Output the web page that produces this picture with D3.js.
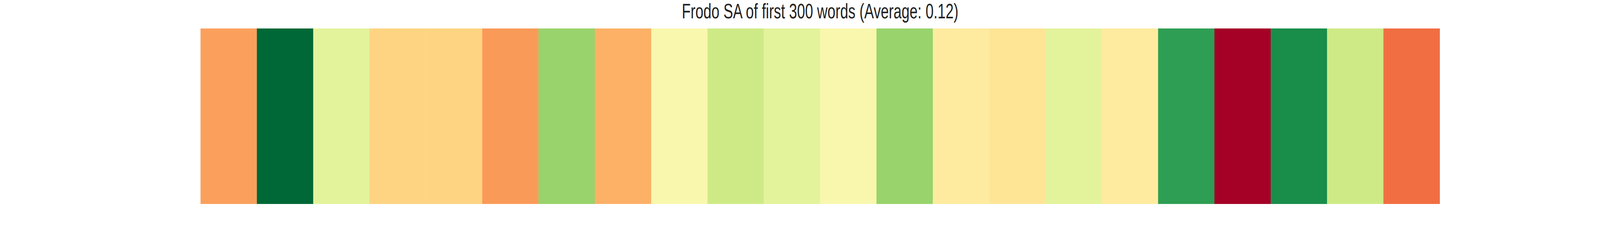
<!DOCTYPE html>
<html>
<head>
<meta charset="utf-8">
<script src="https://cdn.jsdelivr.net/npm/d3@7"></script>
<style>
  html, body { margin: 0; padding: 0; background: #fff; overflow: hidden; }
  svg { display: block; width: 100vw; height: 100vh; }
</style>
</head>
<body>
<div id="chart"></div>
<script>
const titleText = "Frodo SA of first 300 words (Average: 0.12)";
// sentiment per chunk
const sentiment = [-0.44, 1.0, 0.14, -0.24, -0.24, -0.46, 0.44, -0.38, 0.0, 0.24, 0.14,
  0.0, 0.44, -0.12, -0.16, 0.14, -0.12, 0.76, -1.0, 0.84, 0.24, -0.6];

const width = 6000, height = 600;
const margin = { top: 73, right: 601, bottom: 77, left: 752 };

const svg = d3.select("#chart").append("svg")
  .attr("viewBox", `0 0 ${width} ${height}`)
  .attr("preserveAspectRatio", "none");

const x = d3.scaleBand()
  .domain(d3.range(sentiment.length))
  .range([margin.left, width - margin.right]);

const color = d3.scaleSequential(d3.interpolateRdYlGn).domain([-1, 1]);

svg.append("g")
  .selectAll("rect")
  .data(sentiment)
  .join("rect")
  .attr("x", (d, i) => x(i))
  .attr("y", margin.top)
  .attr("width", x.bandwidth() + 0.5)
  .attr("height", height - margin.top - margin.bottom)
  .attr("fill", d => color(d));

svg.append("text")
  .attr("x", (margin.left + width - margin.right) / 2)
  .attr("y", 47)
  .attr("text-anchor", "middle")
  .attr("font-family", "Liberation Sans, Arial, sans-serif")
  .attr("font-size", 54)
  .attr("fill", "#222")
  .text(titleText);
</script>
</body>
</html>
